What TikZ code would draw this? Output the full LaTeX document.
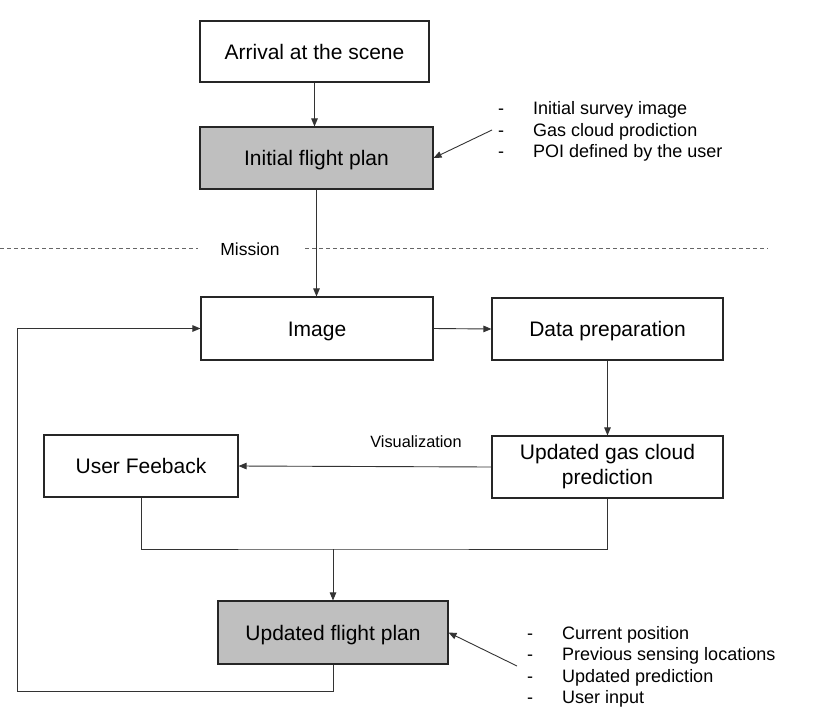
\documentclass[tikz,border=0pt]{standalone}
\usepackage{fontspec}
\setmainfont{Liberation Sans}
\usetikzlibrary{arrows.meta,calc}
\begin{document}
\begin{tikzpicture}[x=1pt,y=-1pt,
  box/.style={draw=black!85, line width=1.1pt, inner sep=0pt, align=center, fill=white,
    font=\fontsize{21}{25}\selectfont},
  onebox/.style={box, text height=15pt, text depth=0pt},
  graybox/.style={onebox, fill=gray!50},
  conn/.style={draw=black!80, line width=0.9pt},
  arr/.style={conn, -{Triangle[length=8pt,width=6.5pt]}},
  listtext/.style={font=\fontsize{18}{21.5}\selectfont, anchor=base west, inner sep=0pt},
  dashline/.style={draw=black!60, line width=0.8pt, dash pattern=on 4pt off 3pt},
  lbl/.style={anchor=base, inner sep=0pt}
]
\useasboundingbox (0,0) rectangle (819,726);

% boxes
\node[onebox, minimum width=229, minimum height=61] (arr) at (314.5,51.5) {Arrival at the scene};
\node[graybox, minimum width=233, minimum height=62] (init) at (316.5,158) {Initial flight plan};
\node[onebox, minimum width=232, minimum height=63] (img) at (317,328.5) {Image};
\node[onebox, minimum width=231, minimum height=62] (dp) at (607.5,329) {Data preparation};
\node[box, minimum width=231, minimum height=62] (gas) at (607.5,467) {Updated gas cloud\\prediction};
\node[onebox, minimum width=194, minimum height=62] (user) at (141,466) {User Feeback};
\node[graybox, minimum width=230, minimum height=63] (ufp) at (333,632.5) {Updated flight plan};

% list 1
\node[listtext] (d1a) at (498,114.5) {-};
\node[listtext] (d1b) at (498,136) {-};
\node[listtext] (d1c) at (498,157.5) {-};
\node[listtext] (t1a) at (533,114.5) {Initial survey image};
\node[listtext] (t1b) at (533,136) {Gas cloud prodiction};
\node[listtext] (t1c) at (533,157.5) {POI defined by the user};

% list 2
\node[listtext] (d2a) at (527,639) {-};
\node[listtext] (d2b) at (527,660.5) {-};
\node[listtext] (d2c) at (527,682) {-};
\node[listtext] (d2d) at (527,703.5) {-};
\node[listtext] (t2a) at (562,639) {Current position};
\node[listtext] (t2b) at (562,660.5) {Previous sensing locations};
\node[listtext] (t2c) at (562,682) {Updated prediction};
\node[listtext] (t2d) at (562,703.5) {User input};

% labels
\node[lbl, font=\fontsize{17.5}{20}\selectfont] (mis) at (250,255.5) {Mission};
\node[lbl, font=\fontsize{16.3}{19}\selectfont] (vis) at (416,447.5) {Visualization};

% dashed separator
\coordinate (s0) at (0,248);
\coordinate (s1) at (198,248);
\coordinate (s2) at (305,248);
\coordinate (s3) at (768,248);
\draw[dashline] (s0) -- (s1);
\draw[dashline] (s2) -- (s3);

% connectors
\draw[arr] (arr.south) -- (arr.south |- init.north);
\draw[arr] (init.south) -- (init.south |- img.north);
\draw[arr] (img.east) -- (dp.west);
\draw[arr] (dp.south) -- (gas.north);
\draw[arr] (gas.west) -- (user.east);
\coordinate (mj) at (333,549);
\draw[conn] (user.south) |- (mj) -| (gas.south);
\draw[arr] (mj) -- (ufp.north);
\coordinate (lb) at (17,691);
\draw[arr] (ufp.south) |- (lb) |- (img.west);

\coordinate (p1) at (492,130);
\draw[arr] (p1) -- (init.east);
\coordinate (p2) at (517,666);
\draw[arr] (p2) -- (ufp.east);
\end{tikzpicture}
\end{document}
